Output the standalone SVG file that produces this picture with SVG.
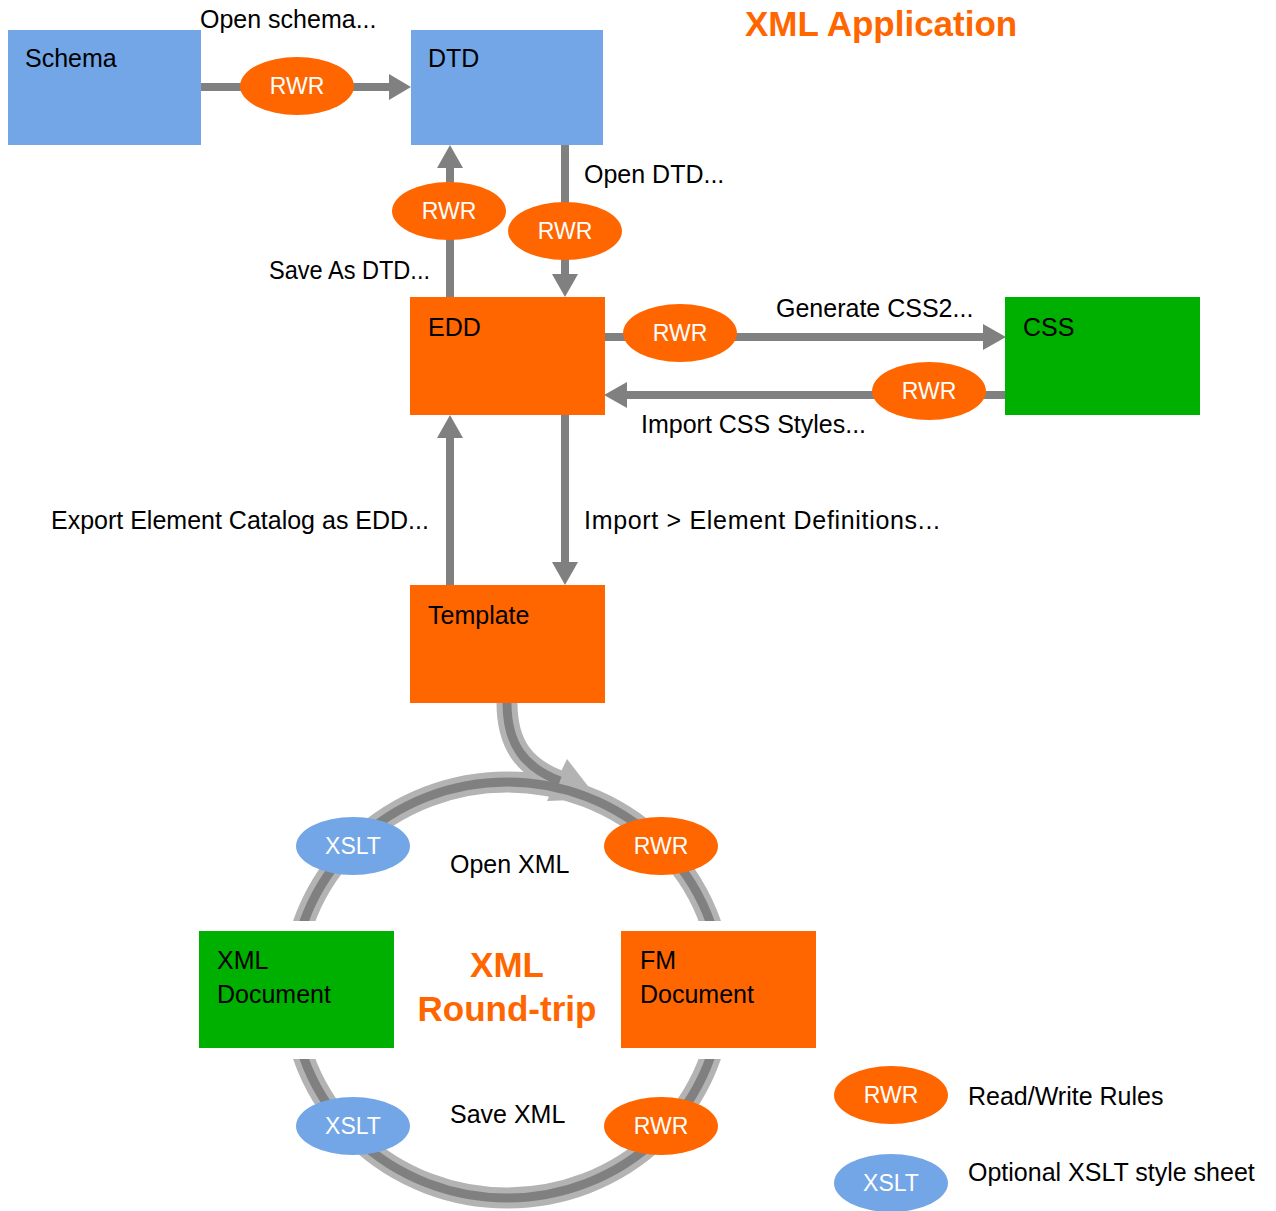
<svg xmlns="http://www.w3.org/2000/svg" width="1276" height="1211" viewBox="0 0 1276 1211">
<style>
.lbl{font-family:"Liberation Sans",Arial,sans-serif;font-size:25px;fill:#000}
.rw{font-family:"Liberation Sans",Arial,sans-serif;font-size:23px;fill:#fff;text-anchor:middle}
.ttl{font-family:"Liberation Sans",Arial,sans-serif;font-size:35px;font-weight:bold;fill:#FF6600}
.blue{fill:#72A6E6}
.orange{fill:#FF6600}
.green{fill:#00B000}
.ln{stroke:#808080;stroke-width:8;fill:none}
.hd{fill:#808080}
.lt{stroke:#B3B3B3;stroke-width:21;fill:none}
.dk{stroke:#808080;stroke-width:9;fill:none}
</style>

<g id="title"><text class="ttl" x="745" y="36">XML Application</text></g>

<g id="connectors">
  <!-- Schema -> DTD -->
  <line class="ln" x1="201" y1="87" x2="392" y2="87"/>
  <polygon class="hd" points="389,74 411,87 389,100"/>
  <!-- EDD -> DTD -->
  <line class="ln" x1="450" y1="297" x2="450" y2="165"/>
  <polygon class="hd" points="437,168 450,145 463,168"/>
  <!-- DTD -> EDD -->
  <line class="ln" x1="565" y1="145" x2="565" y2="277"/>
  <polygon class="hd" points="552,274 565,297 578,274"/>
  <!-- EDD -> CSS -->
  <line class="ln" x1="605" y1="337" x2="986" y2="337"/>
  <polygon class="hd" points="983,324 1006,337 983,350"/>
  <!-- CSS -> EDD -->
  <line class="ln" x1="1005" y1="395" x2="624" y2="395"/>
  <polygon class="hd" points="627,382 604,395 627,408"/>
  <!-- Template -> EDD -->
  <line class="ln" x1="450" y1="585" x2="450" y2="435"/>
  <polygon class="hd" points="437,438 450,415 463,438"/>
  <!-- EDD -> Template -->
  <line class="ln" x1="565" y1="415" x2="565" y2="565"/>
  <polygon class="hd" points="552,562 565,585 578,562"/>

  <!-- Round trip -->
  <path class="lt" d="M507,703 C507,745 525,768 560,781"/>
  <polygon fill="#B3B3B3" points="567,759 598,799 547,801"/>
  <ellipse class="lt" cx="507" cy="990" rx="215" ry="208"/>
  <path class="dk" d="M507,703 C507,745 525,768 560,781"/>
  <ellipse class="dk" cx="507" cy="990" rx="215" ry="208"/>
</g>

<g id="schema"><rect class="blue" x="8" y="30" width="193" height="115"/><text class="lbl" x="25" y="67">Schema</text></g>
<g id="dtd"><rect class="blue" x="411" y="30" width="192" height="115"/><text class="lbl" x="428" y="67">DTD</text></g>
<g id="edd"><rect class="orange" x="410" y="297" width="195" height="118"/><text class="lbl" x="428" y="336">EDD</text></g>
<g id="css"><rect class="green" x="1005" y="297" width="195" height="118"/><text class="lbl" x="1023" y="336">CSS</text></g>
<g id="template"><rect class="orange" x="410" y="585" width="195" height="118"/><text class="lbl" x="428" y="624">Template</text></g>

<g id="xmldoc">
  <rect fill="#fff" x="199" y="921" width="195" height="138"/>
  <rect class="green" x="199" y="931" width="195" height="117"/>
  <text class="lbl" x="217" y="969">XML</text>
  <text class="lbl" x="217" y="1003">Document</text>
</g>
<g id="fmdoc">
  <rect fill="#fff" x="621" y="921" width="195" height="138"/>
  <rect class="orange" x="621" y="931" width="195" height="117"/>
  <text class="lbl" x="640" y="969">FM</text>
  <text class="lbl" x="640" y="1003">Document</text>
</g>

<g id="rwr1"><ellipse class="orange" cx="297" cy="86" rx="57" ry="29"/><text class="rw" x="297" y="94">RWR</text></g>
<g id="rwr2"><ellipse class="orange" cx="449" cy="211" rx="57" ry="29"/><text class="rw" x="449" y="219">RWR</text></g>
<g id="rwr3"><ellipse class="orange" cx="565" cy="231" rx="57" ry="29"/><text class="rw" x="565" y="239">RWR</text></g>
<g id="rwr4"><ellipse class="orange" cx="680" cy="333" rx="57" ry="29"/><text class="rw" x="680" y="341">RWR</text></g>
<g id="rwr5"><ellipse class="orange" cx="929" cy="391" rx="57" ry="29"/><text class="rw" x="929" y="399">RWR</text></g>
<g id="rwr6"><ellipse class="orange" cx="661" cy="846" rx="57" ry="29"/><text class="rw" x="661" y="854">RWR</text></g>
<g id="rwr7"><ellipse class="orange" cx="661" cy="1126" rx="57" ry="29"/><text class="rw" x="661" y="1134">RWR</text></g>
<g id="xslt1"><ellipse class="blue" cx="353" cy="846" rx="57" ry="29"/><text class="rw" x="353" y="854">XSLT</text></g>
<g id="xslt2"><ellipse class="blue" cx="353" cy="1126" rx="57" ry="29"/><text class="rw" x="353" y="1134">XSLT</text></g>

<g id="labels">
  <text class="lbl" x="200" y="28">Open schema...</text>
  <text class="lbl" x="584" y="183">Open DTD...</text>
  <text class="lbl" x="269" y="279" textLength="161" lengthAdjust="spacingAndGlyphs">Save As DTD...</text>
  <text class="lbl" x="776" y="317">Generate CSS2...</text>
  <text class="lbl" x="641" y="433">Import CSS Styles...</text>
  <text class="lbl" x="51" y="529">Export Element Catalog as EDD...</text>
  <text class="lbl" x="584" y="529" textLength="356">Import &gt; Element Definitions...</text>
  <text class="lbl" x="450" y="873">Open XML</text>
  <text class="lbl" x="450" y="1123">Save XML</text>
  <text class="ttl" x="507" y="977" text-anchor="middle">XML</text>
  <text class="ttl" x="507" y="1021" text-anchor="middle">Round-trip</text>
</g>

<g id="legend">
  <ellipse class="orange" cx="891" cy="1095" rx="57" ry="29"/><text class="rw" x="891" y="1103">RWR</text>
  <text class="lbl" x="968" y="1105">Read/Write Rules</text>
  <ellipse class="blue" cx="891" cy="1183" rx="57" ry="29"/><text class="rw" x="891" y="1191">XSLT</text>
  <text class="lbl" x="968" y="1181">Optional XSLT style sheet</text>
</g>
</svg>
